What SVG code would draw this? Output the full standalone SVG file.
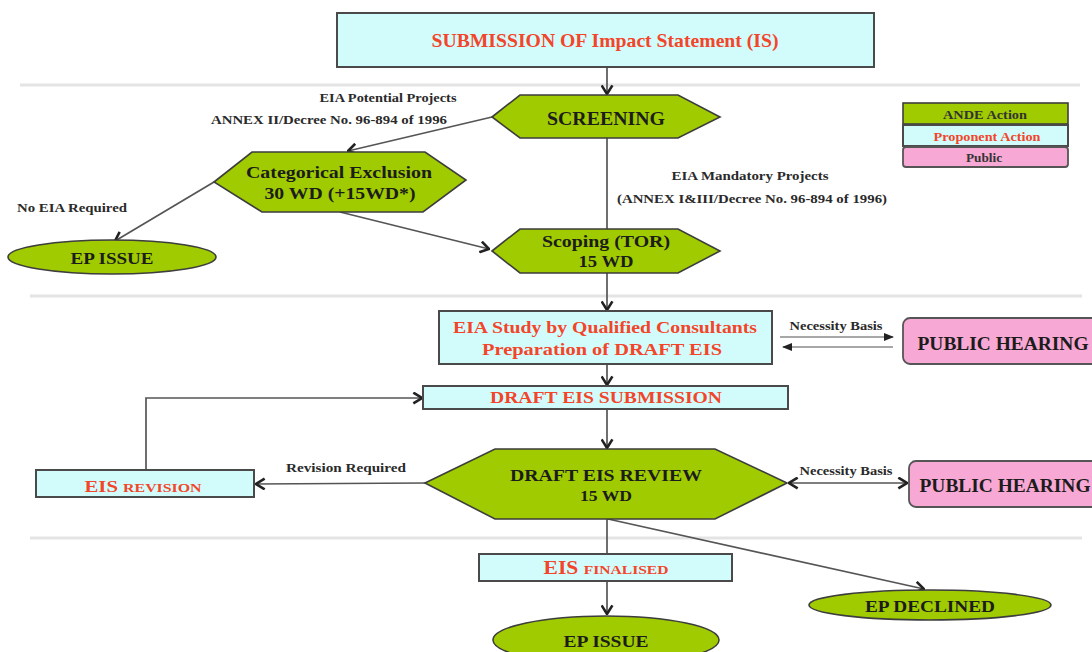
<svg xmlns="http://www.w3.org/2000/svg" width="1092" height="652" viewBox="0 0 1092 652">
  <style>
    text { font-family: "Liberation Serif", "Times New Roman", serif; font-weight: bold; text-anchor: middle; }
    .sep { stroke: #e4e4e4; stroke-width: 3; }
    .green { fill: #9fcb00; stroke: #3d3d3d; stroke-width: 1.6; }
    .cyan { fill: #d2fcfc; stroke: #4a4a4a; stroke-width: 2; }
    .pink { fill: #f8a8d4; stroke: #555; stroke-width: 1.8; }
    .red { fill: #f2452a; }
    .dark { fill: #1c1c1c; }
    .lbl { fill: #2a2a2a; font-size: 12px; }
    .edge { fill: none; stroke: #555; stroke-width: 1.7; }
    .thin { fill: none; stroke: #8a8a8a; stroke-width: 1.6; }
  </style>
  <defs>
    <marker id="chev" viewBox="0 0 10 12" refX="9" refY="6" markerWidth="11" markerHeight="13" markerUnits="userSpaceOnUse" orient="auto-start-reverse">
      <path d="M1,1 L9,6 L1,11" fill="none" stroke="#222" stroke-width="2.4"/>
    </marker>
    <marker id="tri" viewBox="0 0 10 8" refX="9" refY="4" markerWidth="10" markerHeight="8" markerUnits="userSpaceOnUse" orient="auto">
      <path d="M0,0 L10,4 L0,8 Z" fill="#222"/>
    </marker>
  </defs>

  <rect width="1092" height="652" fill="#ffffff"/>

  <!-- section separators -->
  <g id="separators">
    <line class="sep" x1="20" y1="85" x2="1080" y2="85"/>
    <line class="sep" x1="30" y1="296" x2="1082" y2="296"/>
    <line class="sep" x1="30" y1="538" x2="1082" y2="538"/>
  </g>

  <!-- connectors -->
  <g id="connectors">
    <line class="edge" x1="607" y1="67" x2="607" y2="94" marker-end="url(#chev)"/>
    <line class="edge" x1="492" y1="117" x2="348" y2="151" marker-end="url(#chev)"/>
    <line class="edge" x1="607" y1="138" x2="607" y2="229"/>
    <line class="edge" x1="214" y1="182" x2="115" y2="241" marker-end="url(#chev)"/>
    <line class="edge" x1="340" y1="212" x2="489" y2="249" marker-end="url(#chev)"/>
    <line class="edge" x1="607" y1="273" x2="607" y2="310" marker-end="url(#chev)"/>
    <line class="edge" x1="607" y1="364" x2="607" y2="385" marker-end="url(#chev)"/>
    <line class="thin" x1="780" y1="337" x2="893" y2="337" marker-end="url(#tri)"/>
    <line class="thin" x1="893" y1="347" x2="783" y2="347" marker-end="url(#tri)"/>
    <line class="edge" x1="607" y1="409" x2="607" y2="448" marker-end="url(#chev)"/>
    <line class="edge" x1="425" y1="483" x2="256" y2="484" marker-end="url(#chev)"/>
    <polyline class="edge" points="146,470 146,398 422,398" marker-end="url(#chev)"/>
    <line class="edge" x1="789" y1="483" x2="907" y2="483" marker-start="url(#chev)" marker-end="url(#chev)"/>
    <line class="edge" x1="607" y1="519" x2="607" y2="554"/>
    <line class="edge" x1="607" y1="581" x2="607" y2="614" marker-end="url(#chev)"/>
    <line class="edge" x1="608" y1="519" x2="924" y2="589" marker-end="url(#chev)"/>
  </g>

  <!-- connector labels -->
  <g id="edge-labels">
    <text class="lbl" x="388" y="102" textLength="137" lengthAdjust="spacingAndGlyphs">EIA Potential Projects</text>
    <text class="lbl" x="329" y="124" textLength="236" lengthAdjust="spacingAndGlyphs">ANNEX II/Decree No. 96-894 of 1996</text>
    <text class="lbl" x="72" y="212" textLength="110" lengthAdjust="spacingAndGlyphs">No EIA Required</text>
    <text class="lbl" x="750" y="180" textLength="157" lengthAdjust="spacingAndGlyphs">EIA Mandatory Projects</text>
    <text class="lbl" x="752" y="203" textLength="270" lengthAdjust="spacingAndGlyphs">(ANNEX I&amp;III/Decree No. 96-894 of 1996)</text>
    <text class="lbl" x="836" y="330" textLength="93" lengthAdjust="spacingAndGlyphs">Necessity Basis</text>
    <text class="lbl" x="346" y="472" textLength="120" lengthAdjust="spacingAndGlyphs">Revision  Required</text>
    <text class="lbl" x="846" y="475" textLength="93" lengthAdjust="spacingAndGlyphs">Necessity Basis</text>
  </g>

  <g id="submission">
    <rect class="cyan" x="337" y="13" width="537" height="54"/>
    <text class="red" x="605" y="47" font-size="19" textLength="347" lengthAdjust="spacingAndGlyphs">SUBMISSION OF Impact Statement (IS)</text>
  </g>

  <g id="screening">
    <polygon class="green" points="492,117 520,95 678,95 720,117 678,138 520,138"/>
    <text class="dark" x="606" y="125" font-size="18" textLength="118" lengthAdjust="spacingAndGlyphs">SCREENING</text>
  </g>

  <g id="legend">
    <rect x="903" y="103" width="165" height="21" fill="#9fcb00" stroke="#3d3d3d" stroke-width="1.6"/>
    <text x="985" y="119" font-size="12" fill="#333" textLength="84" lengthAdjust="spacingAndGlyphs">ANDE Action</text>
    <rect x="903" y="125" width="165" height="21" class="cyan"/>
    <text class="red" x="987" y="141" font-size="12" textLength="107" lengthAdjust="spacingAndGlyphs">Proponent Action</text>
    <rect x="903" y="147" width="165" height="20" rx="3" class="pink"/>
    <text x="984" y="162" font-size="12" fill="#333" textLength="36" lengthAdjust="spacingAndGlyphs">Public</text>
  </g>

  <g id="categorical-exclusion">
    <polygon class="green" points="214,182 252,152 425,152 466,180 423,212 262,212"/>
    <text class="dark" x="339" y="178" font-size="17" textLength="186" lengthAdjust="spacingAndGlyphs">Categorical Exclusion</text>
    <text class="dark" x="340" y="199" font-size="17" textLength="151" lengthAdjust="spacingAndGlyphs">30 WD (+15WD*)</text>
  </g>

  <g id="ep-issue-1">
    <ellipse class="green" cx="112" cy="257" rx="104" ry="17"/>
    <text class="dark" x="112" y="264" font-size="16" textLength="83" lengthAdjust="spacingAndGlyphs">EP ISSUE</text>
  </g>

  <g id="scoping">
    <polygon class="green" points="492,251 520,229 678,229 720,251 678,273 520,273"/>
    <text class="dark" x="606" y="247" font-size="17" textLength="128" lengthAdjust="spacingAndGlyphs">Scoping (TOR)</text>
    <text class="dark" x="606" y="267" font-size="17" textLength="55" lengthAdjust="spacingAndGlyphs">15 WD</text>
  </g>

  <g id="eia-study">
    <rect class="cyan" x="439" y="311" width="333" height="53"/>
    <text class="red" x="605" y="333" font-size="17" textLength="304" lengthAdjust="spacingAndGlyphs">EIA Study by Qualified Consultants</text>
    <text class="red" x="602" y="355" font-size="17" textLength="240" lengthAdjust="spacingAndGlyphs">Preparation of DRAFT EIS</text>
  </g>

  <g id="public-hearing-1">
    <rect class="pink" x="903" y="318" width="200" height="46" rx="7"/>
    <text class="dark" x="1003" y="350" font-size="18" textLength="171" lengthAdjust="spacingAndGlyphs">PUBLIC HEARING</text>
  </g>

  <g id="draft-submission">
    <rect class="cyan" x="423" y="386" width="365" height="23"/>
    <text class="red" x="606" y="403" font-size="16" textLength="232" lengthAdjust="spacingAndGlyphs">DRAFT EIS SUBMISSION</text>
  </g>

  <g id="draft-review">
    <polygon class="green" points="425,483 495,449 715,449 787,483 715,519 495,519"/>
    <text class="dark" x="606" y="481" font-size="17" textLength="192" lengthAdjust="spacingAndGlyphs">DRAFT EIS REVIEW</text>
    <text class="dark" x="606" y="501" font-size="15" textLength="52" lengthAdjust="spacingAndGlyphs">15 WD</text>
  </g>

  <g id="eis-revision">
    <rect class="cyan" x="36" y="470" width="218" height="27"/>
    <text class="red" x="143" y="492" textLength="117" lengthAdjust="spacingAndGlyphs"><tspan font-size="17">EIS </tspan><tspan font-size="13">REVISION</tspan></text>
  </g>

  <g id="public-hearing-2">
    <rect class="pink" x="909" y="461" width="200" height="46" rx="7"/>
    <text class="dark" x="1005" y="492" font-size="18" textLength="171" lengthAdjust="spacingAndGlyphs">PUBLIC HEARING</text>
  </g>

  <g id="eis-finalised">
    <rect class="cyan" x="479" y="554" width="253" height="27"/>
    <text class="red" x="606" y="574" textLength="125" lengthAdjust="spacingAndGlyphs"><tspan font-size="18">EIS </tspan><tspan font-size="13">FINALISED</tspan></text>
  </g>

  <g id="ep-declined">
    <ellipse class="green" cx="930" cy="605" rx="121" ry="15"/>
    <text class="dark" x="930" y="612" font-size="16" textLength="130" lengthAdjust="spacingAndGlyphs">EP DECLINED</text>
  </g>

  <g id="ep-issue-2">
    <ellipse class="green" cx="606" cy="640" rx="113" ry="24"/>
    <text class="dark" x="606" y="647" font-size="17" textLength="85" lengthAdjust="spacingAndGlyphs">EP ISSUE</text>
  </g>
</svg>
